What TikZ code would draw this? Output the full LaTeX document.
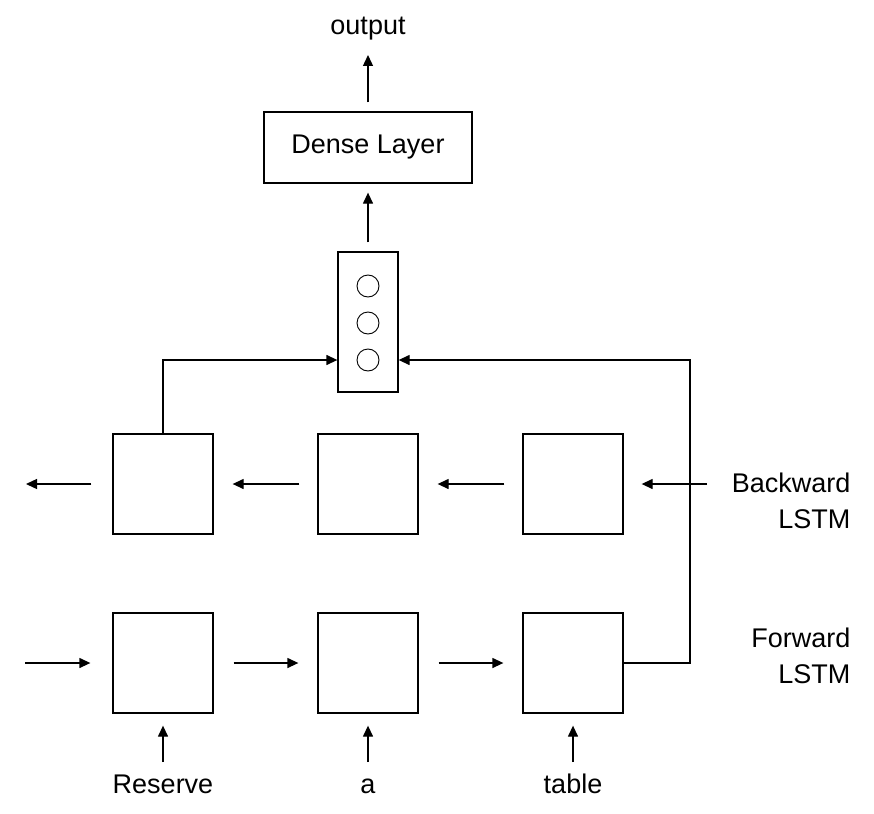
\documentclass[tikz,border=0pt]{standalone}
\usepackage{fontspec}
\setmainfont{Liberation Sans}
\usetikzlibrary{arrows.meta,positioning}

\begin{document}
\begin{tikzpicture}[x=1pt,y=-1pt,>={Triangle[length=11pt,width=10pt]},line width=1.3pt,node distance=205pt,
    cell/.style={draw,minimum width=100pt,minimum height=100pt,inner sep=0pt},
    unit/.style={circle,draw,minimum size=22pt,inner sep=0pt,line width=0.9pt},
    lbl/.style={font=\fontsize{27}{36}\selectfont,inner sep=0pt}]

    \useasboundingbox (0,0) rectangle (874,813);

    % backward and forward cells
    \node[cell] (b1) at (163,484) {};
    \node[cell] (b2) [right of = b1] {};
    \node[cell] (b3) [right of = b2] {};
    \node[cell] (f1) at (163,663) {};
    \node[cell] (f2) [right of = f1] {};
    \node[cell] (f3) [right of = f2] {};

    % concatenation and dense layer
    \node[draw,minimum width=60pt,minimum height=140pt,inner sep=0pt] (cat) at (368,322) {};
    \node[unit] (c1) at (368,286) {};
    \node[unit] (c2) at (368,323) {};
    \node[unit] (c3) at (368,360) {};
    \node[draw,lbl,minimum width=208pt,minimum height=71pt] (dense) at (368,147.5) {Dense Layer};
    \node[lbl,anchor=base] (out) at (368,35) {output};

    % words and row names
    \node[lbl,anchor=base] (w1) at (163,793) {Reserve};
    \node[lbl,anchor=base] (w2) at (368,793) {a};
    \node[lbl,anchor=base] (w3) at (573,793) {table};
    \node[lbl,align=right,anchor=east] (bw) at (851,501) {Backward\\LSTM};
    \node[lbl,align=right,anchor=east] (fw) at (851,656) {Forward\\LSTM};

    \coordinate (fin) at (25,663);
    \coordinate (bout) at (26,484);
    \coordinate (bin) at (707,484);
    \coordinate (turn) at (690,663);

    % recurrent arrows
    \draw[->] (fin) -- ([xshift=-22pt]f1.west);
    \draw[->,shorten <=20pt,shorten >=19pt] (f1) -- (f2);
    \draw[->,shorten <=20pt,shorten >=19pt] (f2) -- (f3);
    \draw[->,shorten >=18pt] (bin) -- (b3.east);
    \draw[->,shorten <=18pt,shorten >=19pt] (b3.west) -- (b2.east);
    \draw[->,shorten <=18pt,shorten >=19pt] (b2.west) -- (b1.east);
    \draw[->,shorten <=21pt] (b1.west) -- (bout);

    % inputs
    \draw[->,shorten <=31pt,shorten >=12pt] (w1.base) -- (f1.south);
    \draw[->,shorten <=31pt,shorten >=12pt] (w2.base) -- (f2.south);
    \draw[->,shorten <=31pt,shorten >=12pt] (w3.base) -- (f3.south);

    % to the concatenation
    \draw[->] (b1.north) |- (cat.west |- c3);
    \draw[->] (f3.east) -- (turn) |- (cat.east |- c3);

    % up to the output
    \draw[->,shorten <=9pt,shorten >=9pt] (cat.north) -- (dense.south);
    \draw[->,shorten <=9pt,shorten >=20pt] (dense.north) -- (out.base);
\end{tikzpicture}
\end{document}
